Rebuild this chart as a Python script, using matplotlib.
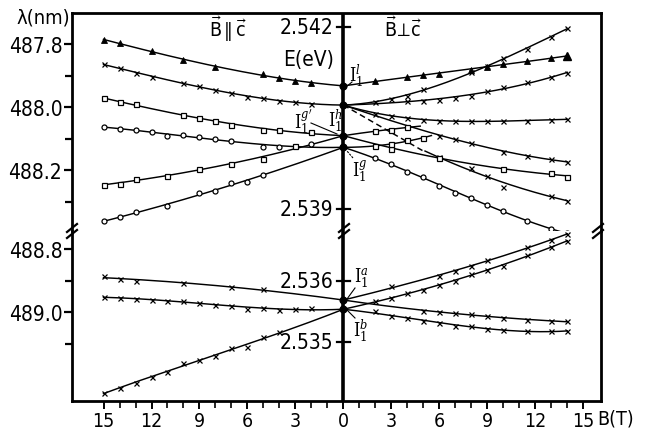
import numpy as np
import matplotlib
matplotlib.use("Agg")
import matplotlib.pyplot as plt
from matplotlib.lines import Line2D
from matplotlib import font_manager as fm

plt.rcParams['font.family'] = ['DejaVu Sans']
plt.rcParams['font.stretch'] = 'condensed'
plt.rcParams['mathtext.fontset'] = 'dejavuserif'
_cond = 'Condensed' in fm.findfont(fm.FontProperties(family='DejaVu Sans', stretch='condensed'))
FS = 15 if _cond else 13.5

# ---------------- data (B in T, wavelength in nm) ----------------
# B || c  (left half)
L1_B = [0, 2, 3, 4, 5, 8, 10, 12, 14, 15]
L1_lam = [487.932, 487.923, 487.917, 487.907, 487.894, 487.872, 487.850, 487.821, 487.796, 487.786]
L2_B = [0, 2, 3, 4, 5, 6, 7, 8, 9, 10, 12, 13, 14, 15]
L2_lam = [487.993, 487.990, 487.984, 487.979, 487.971, 487.966, 487.956, 487.945, 487.933, 487.923,
          487.903, 487.891, 487.876, 487.863]
L3_B = [0, 2, 4, 5, 7, 8, 9, 10, 13, 14, 15]
L3_lam = [488.090, 488.079, 488.071, 488.071, 488.056, 488.043, 488.035, 488.024, 487.990, 487.984, 487.971]
L4_B = [0, 2, 4, 5, 7, 8, 9, 10, 11, 12, 13, 14, 15]
L4_lam = [488.127, 488.117, 488.127, 488.125, 488.106, 488.101, 488.095, 488.088, 488.090, 488.079,
          488.072, 488.069, 488.062]
L5_B = [0, 3, 5, 7, 9, 11, 13, 14, 15]
L5_lam = [488.090, 488.122, 488.164, 488.180, 488.196, 488.217, 488.228, 488.243, 488.246]
L6_B = [0, 5, 6, 7, 8, 9, 11, 13, 14, 15]
L6_lam = [488.127, 488.215, 488.236, 488.240, 488.265, 488.272, 488.314, 488.333, 488.349, 488.362]
LA_B = [0, 5, 7, 10, 13, 14, 15]
LA_lam = [488.961, 488.926, 488.921, 488.907, 488.900, 488.895, 488.886]
LB_B = [0, 2, 3, 4, 5, 6, 7, 8, 9, 10, 11, 12, 13, 14, 15]
LB_lam = [488.990, 488.987, 488.989, 488.991, 488.987, 488.989, 488.979, 488.977, 488.970, 488.963,
          488.963, 488.960, 488.958, 488.956, 488.951]
LC_B = [0, 4, 5, 6, 7, 8, 9, 10, 11, 12, 13, 14, 15]
LC_lam = [488.990, 489.063, 489.079, 489.110, 489.113, 489.137, 489.149, 489.160, 489.187, 489.203,
          489.223, 489.239, 489.254]

# B perp c  (right half)
R1_B = [0, 2, 4, 5, 6, 8, 9, 10, 11.5, 13, 14]
R1_lam = [487.932, 487.916, 487.903, 487.897, 487.893, 487.882, 487.871, 487.863, 487.852, 487.844, 487.838]
R2_B = [0, 3, 4, 5, 8, 9, 10, 11.5, 13, 14]
R2_lam = [487.993, 487.974, 487.963, 487.942, 487.889, 487.868, 487.844, 487.815, 487.776, 487.748]
R3_B = [0, 2, 4, 5, 6, 7, 8, 9, 10, 11.5, 13, 14]
R3_lam = [487.993, 487.982, 487.979, 487.979, 487.976, 487.971, 487.963, 487.949, 487.937, 487.921,
          487.905, 487.891]
R4_B = [0, 3, 4, 5, 6, 7, 8, 9, 10, 11.5, 13, 14]
R4_lam = [487.993, 488.027, 488.035, 488.039, 488.043, 488.043, 488.043, 488.044, 488.044, 488.044,
          488.040, 488.037]
R5_B = [0, 2, 4, 6, 7, 8, 10, 11.5, 13, 14]
R5_lam = [487.993, 488.021, 488.063, 488.090, 488.101, 488.113, 488.141, 488.154, 488.164, 488.175]
RD_B = [0, 5.1]
RD_lam = [487.993, 488.142]
R6_B = [5.1, 6, 8, 9, 10, 13, 14]
R6_lam = [488.142, 488.159, 488.193, 488.217, 488.252, 488.281, 488.297]
R7_B = [0, 3, 6, 10, 13, 14]
R7_lam = [488.090, 488.131, 488.160, 488.196, 488.210, 488.220]
R8_B = [0, 2, 3, 4]
R8_lam = [488.090, 488.074, 488.072, 488.063]
R9_B = [0, 2, 3, 4, 5]
R9_lam = [488.127, 488.124, 488.117, 488.104, 488.098]
R10_B = [0, 2, 3, 4, 5, 6, 7, 8, 9, 10, 11.5, 13, 14]
R10_lam = [488.127, 488.160, 488.179, 488.205, 488.221, 488.251, 488.272, 488.289, 488.310, 488.328,
           488.360, 488.386, 488.402]
RA1_B = [0, 3, 6, 7, 8, 9, 11.5, 13, 14]
RA1_lam = [488.961, 488.918, 488.886, 488.870, 488.853, 488.834, 488.795, 488.771, 488.753]
RA2_B = [0, 2, 3, 4, 5, 6, 7, 8, 9, 10, 11.5, 13, 14]
RA2_lam = [488.990, 488.965, 488.956, 488.939, 488.928, 488.914, 488.900, 488.879, 488.865, 488.853,
           488.819, 488.795, 488.774]
RB1_B = [0, 5, 6, 7, 8, 9, 10, 11.5, 13, 14]
RB1_lam = [488.961, 488.995, 489.000, 489.003, 489.005, 489.011, 489.018, 489.024, 489.028, 489.028]
RB2_B = [0, 2, 3, 4, 5, 6, 7, 8, 9, 10, 11.5, 13, 14]
RB2_lam = [488.990, 488.995, 489.010, 489.019, 489.028, 489.033, 489.042, 489.044, 489.052, 489.055,
           489.058, 489.060, 489.060]

# zero-field lines
center_top = [487.932, 487.993, 488.090, 488.127]
center_bot = [488.961, 488.990]

# axis ticks / labels
lam_major_top = [487.8, 488.0, 488.2]
lam_minor_top = [487.9, 488.1, 488.3]
lam_major_bot = [488.8, 489.0]
lam_minor_bot = [488.9, 489.1]
E_ticks_top = [2.542, 2.539]
E_ticks_bot = [2.536, 2.535]
HC = 1239.85
B_major = [-15, -12, -9, -6, -3, 0, 3, 6, 9, 12, 15]
B_labels = ['15', '12', '9', '6', '3', '0', '3', '6', '9', '12', '15']

# ---------------- figure ----------------
W, H = 645, 431
fig = plt.figure(figsize=(W / 100, H / 100), dpi=100)


def fx(px):
    return px / W


def fy(py):
    return 1 - py / H


X0, X1, YT, YB, YM = 72, 601, 14, 402, 232
ax_top = fig.add_axes([fx(X0), fy(YM), fx(X1) - fx(X0), fy(YT) - fy(YM)])
ax_bot = fig.add_axes([fx(X0), fy(YB), fx(X1) - fx(X0), fy(YM) - fy(YB)])
xlim = (-16.97, 16.1)
ax_top.set_xlim(*xlim)
ax_bot.set_xlim(*xlim)
ax_top.set_ylim(488.3927, 487.7006)
ax_bot.set_ylim(489.2795, 488.7432)

for ax in (ax_top, ax_bot):
    for s in ax.spines.values():
        s.set_linewidth(2.0)
    ax.axvline(0, color='k', lw=2.6, zorder=3)
ax_top.spines['bottom'].set_visible(False)
ax_bot.spines['top'].set_visible(False)

MK = dict(x=dict(marker='x', ms=3.6, mew=0.9, color='k', mfc='k'),
          o=dict(marker='o', ms=3.6, mew=0.9, color='k', mfc='white'),
          s=dict(marker='s', ms=3.6, mew=0.9, color='k', mfc='white'),
          t=dict(marker='^', ms=4.0, mew=0.6, color='k', mfc='k'))


def curve(ax, side, B, lam, mk, deg=3, extent=None, skip_first=False):
    B = np.asarray(B, float)
    lam = np.asarray(lam, float)
    w = np.where(B == 0, 40.0, 1.0)
    coef = np.polyfit(B, lam, deg, w=w)
    bb = np.linspace(B.min(), extent if extent else B.max(), 200)
    ax.plot(side * bb, np.polyval(coef, bb), color='k', lw=1.05, clip_on=False, zorder=4)
    m = B > 0
    if skip_first:
        m[0] = False
    ax.plot(side * B[m], lam[m], ls='none', clip_on=False, zorder=5, **MK[mk])


# left half
curve(ax_top, -1, L1_B, L1_lam, 't')
curve(ax_top, -1, L2_B, L2_lam, 'x')
curve(ax_top, -1, L3_B, L3_lam, 's')
curve(ax_top, -1, L4_B, L4_lam, 'o')
curve(ax_top, -1, L5_B, L5_lam, 's')
curve(ax_top, -1, L6_B, L6_lam, 'o')
curve(ax_bot, -1, LA_B, LA_lam, 'x', deg=2)
curve(ax_bot, -1, LB_B, LB_lam, 'x')
curve(ax_bot, -1, LC_B, LC_lam, 'x')
# right half
curve(ax_top, 1, R1_B, R1_lam, 't')
curve(ax_top, 1, R2_B, R2_lam, 'x')
curve(ax_top, 1, R3_B, R3_lam, 'x')
curve(ax_top, 1, R4_B, R4_lam, 'x')
curve(ax_top, 1, R5_B, R5_lam, 'x')
ax_top.plot(RD_B, RD_lam, color='k', lw=1.05, ls=(0, (4, 2.5)), zorder=4)
curve(ax_top, 1, R6_B, R6_lam, 'x', deg=2, skip_first=True)
curve(ax_top, 1, R7_B, R7_lam, 's', deg=2)
curve(ax_top, 1, R8_B, R8_lam, 's', deg=2, extent=4.8)
curve(ax_top, 1, R9_B, R9_lam, 's', deg=2, extent=5.5)
curve(ax_top, 1, R10_B, R10_lam, 'o')
curve(ax_bot, 1, RA1_B, RA1_lam, 'x')
curve(ax_bot, 1, RA2_B, RA2_lam, 'x')
curve(ax_bot, 1, RB1_B, RB1_lam, 'x')
curve(ax_bot, 1, RB2_B, RB2_lam, 'x')

# filled points
ax_top.plot([0] * len(center_top), center_top, 'ko', ms=4.8, zorder=6)
ax_bot.plot([0] * len(center_bot), center_bot, 'ko', ms=4.8, zorder=6)
ax_top.plot([R10_B[-1]], [R10_lam[-1]], 'ko', ms=4.8, zorder=6, clip_on=False)
ax_top.plot([R1_B[-1]], [R1_lam[-1]], 'k^', ms=5.5, zorder=6, clip_on=False)

# wavelength axis ticks
ax_top.set_yticks(lam_major_top)
ax_top.set_yticklabels([f'{v:.1f}' for v in lam_major_top])
ax_top.set_yticks(lam_minor_top, minor=True)
ax_bot.set_yticks(lam_major_bot)
ax_bot.set_yticklabels([f'{v:.1f}' for v in lam_major_bot])
ax_bot.set_yticks(lam_minor_bot, minor=True)
ax_top.set_xticks([])
ax_bot.set_xticks(B_major)
ax_bot.set_xticklabels(B_labels)
ax_bot.set_xticks(np.arange(-15, 16, 1), minor=True)
for ax in (ax_top, ax_bot):
    ax.tick_params(axis='y', which='major', direction='out', length=6, width=1.6, labelsize=FS, pad=1)
    ax.tick_params(axis='y', which='minor', direction='out', length=5, width=1.6)
    ax.tick_params(right=False, top=False)
ax_bot.tick_params(axis='x', which='major', direction='out', length=6, width=1.4, labelsize=FS - 1, pad=1.5)
ax_bot.tick_params(axis='x', which='minor', direction='out', length=5, width=1.2)

# energy axis on the centre line
for ax, Es in ((ax_top, E_ticks_top), (ax_bot, E_ticks_bot)):
    for E in Es:
        lam = HC / E
        ax.plot([-0.38, 0.38], [lam, lam], color='k', lw=1.6, zorder=6)
        ax.text(-0.65, lam, f'{E:.3f}', ha='right', va='center', fontsize=FS, zorder=7)

# texts
fig.text(fx(43), fy(18), 'λ(nm)', ha='center', va='center', fontsize=FS - 0.5)
fig.text(fx(309), fy(60), 'E(eV)', ha='center', va='center', fontsize=FS)
fig.text(fx(228), fy(29), r'$\vec{\mathsf{B}}\,\Vert\,\vec{\mathsf{c}}$', ha='center', va='center', fontsize=14)
fig.text(fx(403), fy(29), r'$\vec{\mathsf{B}}\!\perp\!\vec{\mathsf{c}}$', ha='center', va='center', fontsize=14)
fig.text(fx(597), fy(419), 'B(T)', ha='left', va='center', fontsize=FS - 1)

lab = dict(ha='center', va='center', fontsize=13)
fig.text(fx(356), fy(76), r'$\mathrm{I}_1^{l}$', **lab)
fig.text(fx(303), fy(122), r"$\mathrm{I}_1^{g'}$", **lab)
fig.text(fx(335), fy(121), r'$\mathrm{I}_1^{h}$', **lab)
fig.text(fx(360), fy(171), r'$\mathrm{I}_1^{g}$', **lab)
fig.text(fx(361), fy(278), r'$\mathrm{I}_1^{a}$', **lab)
fig.text(fx(361), fy(331), r'$\mathrm{I}_1^{b}$', **lab)


def seg(p, q, lw=0.8, ls='-'):
    fig.add_artist(Line2D([fx(p[0]), fx(q[0])], [fy(p[1]), fy(q[1])], color='k', lw=lw, ls=ls))


seg((352, 83), (346, 88))
seg((311, 124), (337, 135))
seg((353, 159), (347, 152), ls=(0, (2, 1)))
seg((355, 289), (347, 300))
seg((347, 311), (355, 319))

# axis break marks
for bx in (X0, 344, X1 - 3):
    for dy in (-3, 3):
        seg((bx - 5, YM + dy + 4), (bx + 5, YM + dy - 4), lw=1.6)

fig.savefig('out.png', dpi=100)
